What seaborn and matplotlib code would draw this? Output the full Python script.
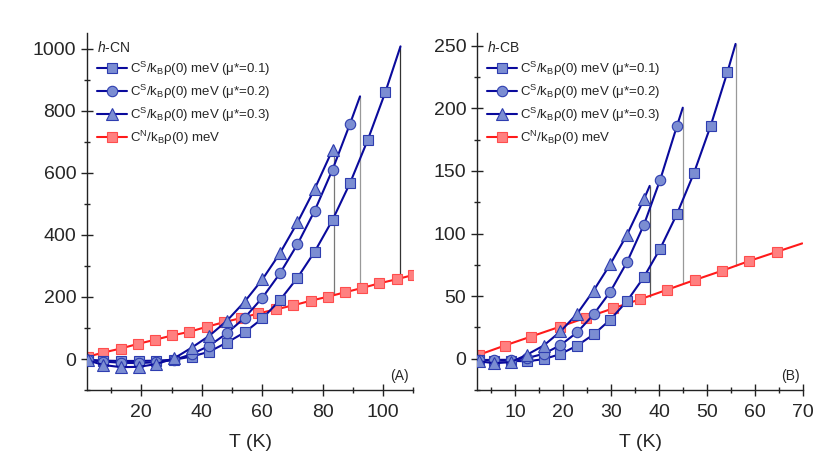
import matplotlib
matplotlib.use('Agg')
import matplotlib.pyplot as plt
import seaborn as sns
from matplotlib.ticker import MultipleLocator

# ---- data: panel A (h-CN) ----
t_a = [2.2, 7.4, 13.3, 19.2, 24.9, 30.8, 36.7, 42.5, 48.3, 54.2, 60.1, 65.9, 71.7, 77.4, 83.3, 89.1, 94.9, 100.8]
s1_a = [-2, -5, -6, -6, -5, -2, 8, 24, 53, 86, 131, 190, 262, 346, 448, 567, 704, 860]
s2_a = [-3, -8, -12, -13, -10, -3, 16, 43, 83, 133, 198, 276, 370, 478, 610, 758]
s3_a = [-4, -19, -26, -25, -16, 2, 37, 75, 123, 185, 257, 341, 440, 548, 674]
tc_a = [105.8, 92.4, 83.7]          # end of each superconducting curve (mu*=0.1, 0.2, 0.3)
top_a = [1007, 846, 685]
base_a = [262, 227, 206]            # normal-state value at Tc
tn_a = [2.2, 7.4, 13.2, 18.9, 24.4, 30.2, 35.9, 41.7, 47.4, 53.0, 58.7, 64.5, 70.3, 76.1, 81.8, 87.4, 93.1, 98.8, 104.5, 110.1]
n_a = [7.5, 21, 34, 49, 62, 76, 88, 104, 119, 132, 147, 160, 173, 188, 201, 215, 229, 244, 257, 271]

# ---- data: panel B (h-CB) ----
t_b = [2.4, 5.6, 9.0, 12.4, 15.9, 19.4, 22.9, 26.3, 29.8, 33.3, 36.8, 40.2, 43.7, 47.2, 50.7, 54.2]
s1_b = [-1, -1.5, -1.6, -2, -0.3, 3.8, 10.6, 19.4, 31.3, 46.2, 65.3, 88, 115.7, 148, 185.8, 228.8]
s2_b = [-1, -0.8, -0.8, 0.5, 4, 10.9, 21.2, 35.4, 53.6, 77.4, 107, 143, 186]
s3_b = [-2, -3.5, -2.7, 3.2, 10.6, 21.8, 36.1, 54.4, 75.6, 99.2, 127.4]
tc_b = [55.9, 44.9, 38.0]
top_b = [251.3, 200.4, 138]
base_b = [74, 59.5, 49.5]
tn_b = [2.4, 7.8, 13.3, 19.2, 24.8, 30.4, 36.0, 41.7, 47.4, 53.1, 58.7, 64.5]
n_b = [3.2, 10.6, 17.8, 25.5, 32.9, 40.3, 47.5, 55.2, 62.9, 70.3, 78.0, 85.4]
n_end_b = (69.8, 92.1)

labels = [r'C$^{\rm S}$/k$_{\rm B}$ρ(0) meV (μ*=0.1)',
          r'C$^{\rm S}$/k$_{\rm B}$ρ(0) meV (μ*=0.2)',
          r'C$^{\rm S}$/k$_{\rm B}$ρ(0) meV (μ*=0.3)',
          r'C$^{\rm N}$/k$_{\rm B}$ρ(0) meV']

sns.set_style('ticks')
plt.rcParams['font.family'] = ['Liberation Sans', 'DejaVu Sans']
plt.rcParams['mathtext.fontset'] = 'custom'
plt.rcParams['mathtext.rm'] = 'Liberation Sans'
plt.rcParams['mathtext.it'] = 'Liberation Sans:italic'

BLUE = '#0a0a9c'
BFACE = '#7b8dd2'
BEDGE = '#2e3db0'
RED = '#ff1a1a'
RFACE = '#ff8080'
REDGE = '#ff4d4d'
markers = ['s', 'o', '^']
msizes = [7, 7.5, 8.5]

fig = plt.figure(figsize=(8.3, 4.65), dpi=100)
ax_a = fig.add_axes([0.1048, 0.161, 0.393, 0.768])
ax_b = fig.add_axes([0.5747, 0.161, 0.393, 0.768])


def draw_panel(ax, t, series, tc, top, base, tn, nvals, n_line_x, n_line_y, title, vcolors):
    # normal state
    sns.lineplot(x=n_line_x, y=n_line_y, ax=ax, estimator=None, sort=False, color=RED, lw=1.5,
                 marker='s', markersize=7, markevery=slice(0, len(tn)),
                 markerfacecolor=RFACE, markeredgecolor=REDGE, markeredgewidth=0.8,
                 label=labels[3], zorder=2)
    # vertical lines at Tc
    ax.vlines(tc, base, top, colors=vcolors, lw=0.9, zorder=1)
    # superconducting curves
    for i, vals in enumerate(series):
        n = len(vals)
        x = t[:n] + [tc[i]]
        y = vals + [top[i]]
        sns.lineplot(x=x, y=y, ax=ax, estimator=None, sort=False, color=BLUE, lw=1.5,
                     marker=markers[i], markersize=msizes[i], markevery=slice(0, n),
                     markerfacecolor=BFACE, markeredgecolor=BEDGE, markeredgewidth=0.8,
                     label=labels[i], zorder=3 + i)
    h, l = ax.get_legend_handles_labels()
    order = [1, 2, 3, 0]
    leg = ax.legend([h[k] for k in order], [l[k] for k in order], loc='upper left',
                    bbox_to_anchor=(0.03, 0.98), frameon=False, fontsize=9.5,
                    title=title, title_fontsize=10, alignment='left',
                    borderpad=0, borderaxespad=0, handlelength=2.3, handletextpad=0.25,
                    labelspacing=0.36)
    return leg


draw_panel(ax_a, t_a, [s1_a, s2_a, s3_a], tc_a, top_a, base_a, tn_a, n_a, tn_a, n_a,
           r'$\mathit{h}$-CN', ['#333333', '#999999', '#777777'])
draw_panel(ax_b, t_b, [s1_b, s2_b, s3_b], tc_b, top_b, base_b, tn_b, n_b,
           tn_b + [n_end_b[0]], n_b + [n_end_b[1]],
           r'$\mathit{h}$-CB', ['#999999', '#999999', '#555555'])

ax_a.set_xlim(2, 110)
ax_a.set_ylim(-100, 1050)
ax_a.xaxis.set_major_locator(MultipleLocator(20))
ax_a.xaxis.set_minor_locator(MultipleLocator(10))
ax_a.yaxis.set_major_locator(MultipleLocator(200))
ax_a.yaxis.set_minor_locator(MultipleLocator(100))
ax_a.text(0.985, 0.04, '(A)', transform=ax_a.transAxes, ha='right', va='center', fontsize=10)

ax_b.set_xlim(2, 70)
ax_b.set_ylim(-25, 260)
ax_b.xaxis.set_major_locator(MultipleLocator(10))
ax_b.xaxis.set_minor_locator(MultipleLocator(5))
ax_b.yaxis.set_major_locator(MultipleLocator(50))
ax_b.yaxis.set_minor_locator(MultipleLocator(25))
ax_b.text(0.988, 0.04, '(B)', transform=ax_b.transAxes, ha='right', va='center', fontsize=10)

for ax in (ax_a, ax_b):
    sns.despine(ax=ax)
    for sp in ('left', 'bottom'):
        ax.spines[sp].set_linewidth(1.0)
        ax.spines[sp].set_color('#222222')
    ax.tick_params(which='major', direction='inout', length=8.6, width=1.0, color='#222222',
                   labelsize=14)
    ax.tick_params(which='minor', direction='inout', length=5, width=1.0, color='#222222')
    ax.tick_params(axis='x', which='major', pad=6)
    ax.tick_params(axis='y', which='major', pad=3.5)
    ax.set_xlabel('T (K)', fontsize=14, labelpad=9)
    ax.set_ylabel('')

fig.savefig('out.png', dpi=100)
